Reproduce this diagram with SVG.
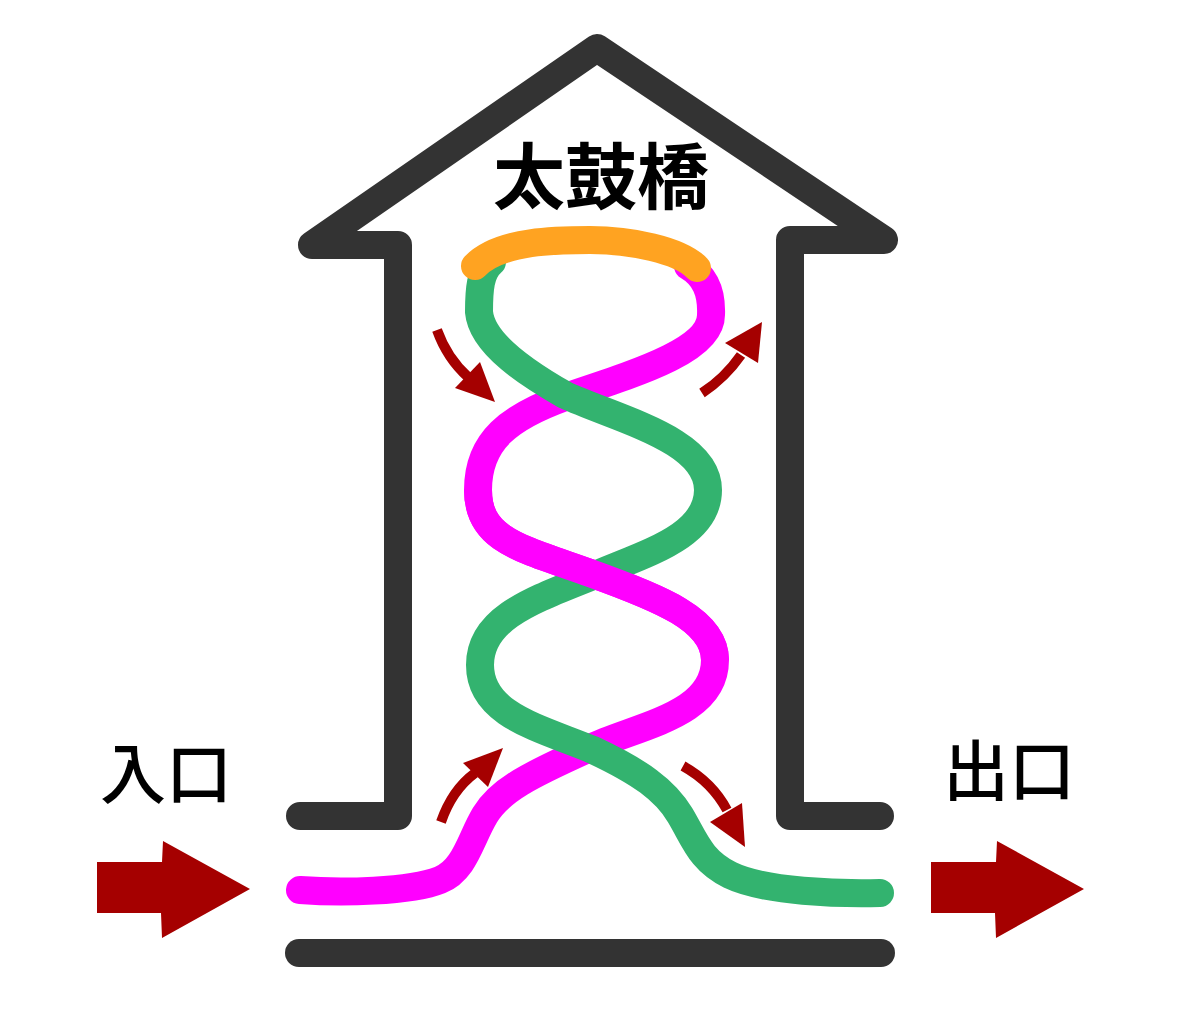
<svg xmlns="http://www.w3.org/2000/svg" width="1200" height="1016" viewBox="0 0 1200 1016">
  <style>
    .wall { fill: none; stroke: #333333; stroke-width: 28; stroke-linecap: round; stroke-linejoin: round; }
    .band { fill: none; stroke-width: 28; stroke-linecap: round; stroke-linejoin: round; }
    .mag { stroke: #ff00ff; }
    .grn { stroke: #33b36f; }
    .org { stroke: #ffa321; }
    .shaft { fill: none; stroke: #a50000; stroke-width: 10; }
    .head { fill: #a50000; }
    .lbl { font-family: "Noto Sans CJK JP", "Noto Sans CJK SC", sans-serif; fill: #000; text-anchor: middle; }
  </style>
  <rect width="1200" height="1016" fill="#ffffff"/>

  <g id="structure">
    <path class="wall" d="M 300,816 L 398,816 L 398,245 L 312,245 L 597,48 L 884,240 L 790,240 L 790,816 L 880,816"/>
    <path class="wall" d="M 299,953 L 881,953"/>
  </g>

  <g id="connectors">
    <path id="magenta-path" class="band mag" d="M 688,266 C 705,276 712,292 711,315 C 711,350 640,372 565,397 C 510,417 478,440 478,490 C 478,540 520,548 590,573 C 660,598 715,620 715,660 C 715,715 640,725 590,748 C 530,775 500,790 485,815 C 470,840 465,870 440,880 C 410,892 340,893 300,890"/>
    <path id="green-path" class="band grn" d="M 492,262 C 480,272 479,290 479,312 C 482,345 530,375 565,395 C 620,420 708,440 708,490 C 708,535 650,552 600,573 C 540,598 480,615 480,665 C 480,715 540,728 593,750 C 640,772 665,790 680,815 C 695,840 700,860 730,875 C 765,892 840,894 880,893"/>
    <path id="magenta-over" class="band mag" style="stroke-linecap:butt" d="M 478,490 C 478,540 520,548 590,573 C 660,598 715,620 715,660"/>
    <path id="bridge" class="band org" d="M 475,266 C 500,240 560,240 590,240 C 630,240 680,250 697,268"/>

    <g id="arrow-top-left">
      <path class="shaft" d="M 437,330 Q 447,358 468,377"/>
      <polygon class="head" points="480,362 495,402 455,388"/>
    </g>
    <g id="arrow-top-right">
      <path class="shaft" d="M 702,393 Q 725,378 741,355"/>
      <polygon class="head" points="725,343 762,322 758,363"/>
    </g>
    <g id="arrow-bottom-left">
      <path class="shaft" d="M 441,822 Q 452,790 475,773"/>
      <polygon class="head" points="463,763 503,748 488,787"/>
    </g>
    <g id="arrow-bottom-right">
      <path class="shaft" d="M 683,766 Q 712,782 727,810"/>
      <polygon class="head" points="710,822 745,847 742,803"/>
    </g>
  </g>

  <g id="entrance-arrow">
    <polygon class="head" points="97,862 162,862 163,841 250,889 162,938 161,913 97,913"/>
  </g>
  <g id="exit-arrow">
    <polygon class="head" points="931,862 996,862 997,841 1084,889 996,938 995,913 931,913"/>
  </g>

  <g id="title">
    <text class="lbl" x="601" y="203" font-size="72" font-weight="bold">太鼓橋</text>
  </g>
  <g id="entrance-label">
    <text class="lbl" x="166" y="798" font-size="66" font-weight="500">入口</text>
  </g>
  <g id="exit-label">
    <text class="lbl" x="1009" y="795" font-size="66" font-weight="500">出口</text>
  </g>
</svg>
